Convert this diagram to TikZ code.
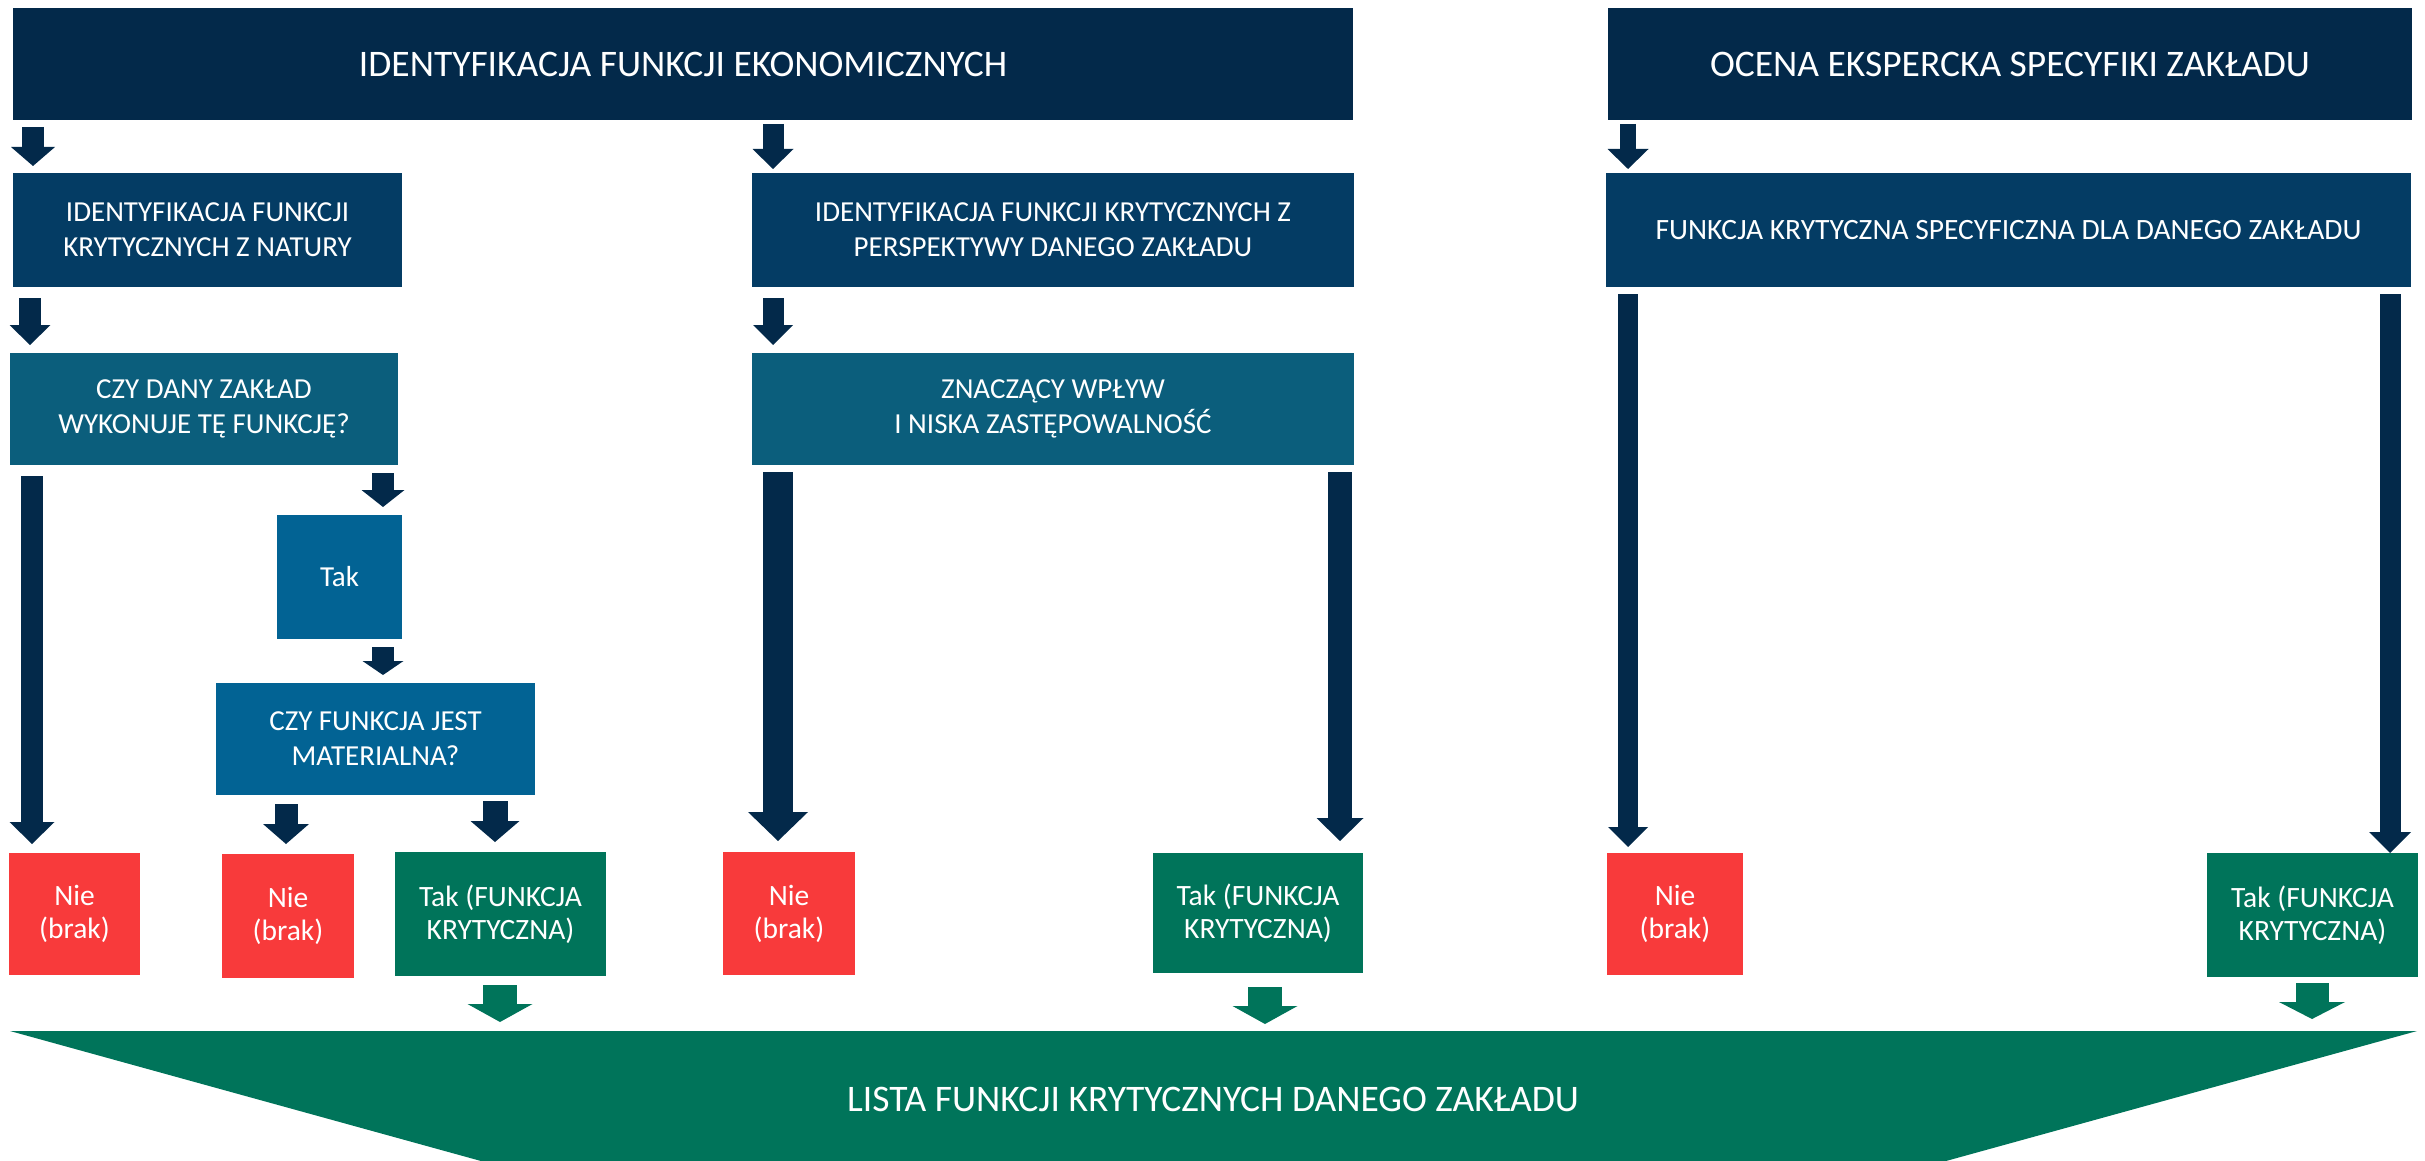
\documentclass[tikz,border=0pt]{standalone}
\usepackage{fontspec}
\setmainfont{Carlito}
\usetikzlibrary{arrows.meta}
\definecolor{cnavy}{HTML}{03294A}
\definecolor{clevtwo}{HTML}{043C64}
\definecolor{clevthree}{HTML}{0B5E7C}
\definecolor{clevfour}{HTML}{026394}
\definecolor{cred}{HTML}{F83A3B}
\definecolor{cgreen}{HTML}{00745A}
\begin{document}
\begin{tikzpicture}[x=1pt,y=-1pt,
  box/.style={inner sep=0pt, outer sep=0pt, anchor=north west, text=white, align=center,
              font=\fontsize{29}{35}\selectfont},
  bigtxt/.style={font=\fontsize{37.5}{43}\selectfont},
  smalltxt/.style={font=\fontsize{29.5}{33}\selectfont},
  ba/.style n args={3}{line width=#1pt, -{Triangle[width=#2pt,length=#3pt,line width=0pt]}},
  navyarrow/.style={draw=cnavy, color=cnavy},
  greenarrow/.style={draw=cgreen, color=cgreen}]
\useasboundingbox (0,0) rectangle (2425,1161);

% top row
\node[box, bigtxt, fill=cnavy, minimum width=1340pt, minimum height=112pt] (top1) at (13,8) {IDENTYFIKACJA FUNKCJI EKONOMICZNYCH};
\node[box, bigtxt, fill=cnavy, minimum width=804pt, minimum height=112pt] (top2) at (1608,8) {OCENA EKSPERCKA SPECYFIKI ZAKŁADU};

% second row
\node[box, fill=clevtwo, minimum width=389pt, minimum height=114pt] (n1) at (13,173) {IDENTYFIKACJA FUNKCJI\\KRYTYCZNYCH Z NATURY};
\node[box, fill=clevtwo, minimum width=602pt, minimum height=114pt] (n2) at (752,173) {IDENTYFIKACJA FUNKCJI KRYTYCZNYCH Z\\PERSPEKTYWY DANEGO ZAKŁADU};
\node[box, fill=clevtwo, minimum width=805pt, minimum height=114pt, font=\fontsize{29.5}{35}\selectfont] (n3) at (1606,173) {FUNKCJA KRYTYCZNA SPECYFICZNA DLA DANEGO ZAKŁADU};

% third row
\node[box, fill=clevthree, minimum width=388pt, minimum height=112pt] (c1) at (10,353) {CZY DANY ZAKŁAD\\WYKONUJE TĘ FUNKCJĘ?};
\node[box, fill=clevthree, minimum width=602pt, minimum height=112pt] (c2) at (752,353) {ZNACZĄCY WPŁYW\\I NISKA ZASTĘPOWALNOŚĆ};

% Tak / materialna
\node[box, fill=clevfour, minimum width=125pt, minimum height=124pt] (tak0) at (277,515) {Tak};
\node[box, fill=clevfour, minimum width=319pt, minimum height=112pt] (mat) at (216,683) {CZY FUNKCJA JEST\\MATERIALNA?};

% outcomes
\node[box, smalltxt, fill=cred, minimum width=131pt, minimum height=122pt] (nie1) at (9,853) {Nie\\(brak)};
\node[box, smalltxt, fill=cred, minimum width=132pt, minimum height=124pt] (nie2) at (222,854) {Nie\\(brak)};
\node[box, smalltxt, fill=cgreen, minimum width=211pt, minimum height=124pt] (tak1) at (395,852) {Tak (FUNKCJA\\KRYTYCZNA)};
\node[box, smalltxt, fill=cred, minimum width=132pt, minimum height=123pt] (nie3) at (723,852) {Nie\\(brak)};
\node[box, smalltxt, fill=cgreen, minimum width=210pt, minimum height=120pt] (tak2) at (1153,853) {Tak (FUNKCJA\\KRYTYCZNA)};
\node[box, smalltxt, fill=cred, minimum width=136pt, minimum height=122pt] (nie4) at (1607,853) {Nie\\(brak)};
\node[box, smalltxt, fill=cgreen, minimum width=211pt, minimum height=124pt] (tak3) at (2207,853) {Tak (FUNKCJA\\KRYTYCZNA)};

% bottom list shape
\fill[cgreen] (10,1031) -- (2417,1031) -- (1946,1161) -- (481,1161) -- cycle;
\coordinate (listtop) at (1213,1031);
\node[text=white, bigtxt, inner sep=0pt] (list) at (1213,1099) {LISTA FUNKCJI KRYTYCZNYCH DANEGO ZAKŁADU};

% x guides for arrows
\coordinate (xa) at (33,0);
\coordinate (xb) at (773,0);
\coordinate (xc) at (1628,0);
\coordinate (xd) at (30,0);
\coordinate (xe) at (32,0);
\coordinate (xf) at (383,0);
\coordinate (xg) at (286,0);
\coordinate (xh) at (495,0);
\coordinate (xi) at (778,0);
\coordinate (xj) at (1340,0);
\coordinate (xk) at (2390,0);
\coordinate (xl) at (500,0);
\coordinate (xm) at (1265,0);
\coordinate (xn) at (2312,0);

% navy arrows
\draw[navyarrow, ba={22}{44}{19}, shorten <=7pt, shorten >=7pt] (top1.south -| xa) -- (n1.north -| xa);
\draw[navyarrow, ba={21}{41}{20}, shorten <=4pt, shorten >=4pt] (top1.south -| xb) -- (n2.north -| xb);
\draw[navyarrow, ba={16}{41}{20}, shorten <=4pt, shorten >=4pt] (top2.south -| xc) -- (n3.north -| xc);
\draw[navyarrow, ba={22}{41}{20}, shorten <=11pt, shorten >=8pt] (n1.south -| xd) -- (c1.north -| xd);
\draw[navyarrow, ba={21}{40}{20}, shorten <=11pt, shorten >=8pt] (n2.south -| xb) -- (c2.north -| xb);
\draw[navyarrow, ba={22}{45}{22}, shorten <=11pt, shorten >=9pt] (c1.south -| xe) -- (nie1.north -| xe);
\draw[navyarrow, ba={22}{43}{17}, shorten <=8pt, shorten >=8pt] (c1.south -| xf) -- (tak0.north -| xf);
\draw[navyarrow, ba={22}{41}{14}, shorten <=8pt, shorten >=8pt] (tak0.south -| xf) -- (mat.north -| xf);
\draw[navyarrow, ba={23}{46}{20}, shorten <=9pt, shorten >=10pt] (mat.south -| xg) -- (nie2.north -| xg);
\draw[navyarrow, ba={25}{49}{21}, shorten <=6pt, shorten >=10pt] (mat.south -| xh) -- (tak1.north -| xh);
\draw[navyarrow, ba={30}{60}{29}, shorten <=7pt, shorten >=11pt] (c2.south -| xi) -- (nie3.north -| xi);
\draw[navyarrow, ba={24}{47}{23}, shorten <=7pt, shorten >=12pt] (c2.south -| xj) -- (tak2.north -| xj);
\draw[navyarrow, ba={20}{40}{20}, shorten <=7pt, shorten >=6pt] (n3.south -| xc) -- (nie4.north -| xc);
\draw[navyarrow, ba={21}{42}{21}, shorten <=7pt, shorten >=0pt] (n3.south -| xk) -- (tak3.north -| xk);

% green arrows
\draw[greenarrow, ba={34}{65}{18}, shorten <=9pt, shorten >=9pt] (tak1.south -| xl) -- (listtop -| xl);
\draw[greenarrow, ba={34}{65}{18}, shorten <=14pt, shorten >=7pt] (tak2.south -| xm) -- (listtop -| xm);
\draw[greenarrow, ba={33}{66}{17}, shorten <=6pt, shorten >=12pt] (tak3.south -| xn) -- (listtop -| xn);
\end{tikzpicture}
\end{document}
